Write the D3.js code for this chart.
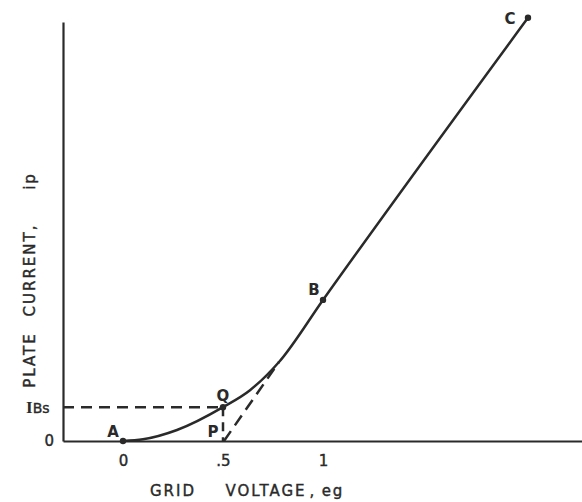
<!DOCTYPE html>
<html><head><meta charset="utf-8">
<script src="https://cdn.jsdelivr.net/npm/d3@7"></script>
<style>
body{margin:0;background:#fff;}
text{font-family:"DejaVu Sans",sans-serif;fill:#2a2a2a;}
</style></head>
<body><svg id="c" width="582" height="502"></svg>
<script>
// data (grid voltage eg, plate current ip in arbitrary units)
const xDomain = [-0.3, 2.3];
const yDomain = [0, 2.97];
const curveEg = [0, 0.1, 0.27, 0.5, 0.635, 0.78, 1.0, 2.025];
const curveIp = [0, 0.012, 0.078, 0.24, 0.36, 0.56, 1.0, 3.0];
const pointNames = ["A", "Q", "B", "C"];
const pointEg = [0, 0.5, 1.0, 2.025];
const pointIp = [0, 0.24, 1.0, 3.0];
const tangentEg = [0.505, 0.78];
const tangentIp = [0, 0.56];
const ibsIp = 0.24;
const qEg = 0.5;
const xTicks = [0, 0.5, 1];
const xTickLabels = ["0", ".5", "1"];

const svg = d3.select("#c");
const x = d3.scaleLinear().domain(xDomain).range([63, 583]);
const y = d3.scaleLinear().domain(yDomain).range([441, 22]);
const ink = "#2a2a2a";

// axes
svg.append("g").attr("transform", `translate(0,${y(0)})`)
  .call(d3.axisBottom(x).tickValues(xTicks).tickSize(0).tickPadding(14)
    .tickFormat((d, i) => xTickLabels[i]))
  .call(g => g.select(".domain").attr("stroke", ink).attr("stroke-width", 2.2))
  .call(g => g.selectAll("text").attr("font-size", 15).attr("fill", ink).attr("font-family", "DejaVu Sans")
    .attr("stroke", ink).attr("stroke-width", 0.4));
svg.append("g").attr("transform", `translate(${x(xDomain[0])},0)`)
  .call(d3.axisLeft(y).tickValues([0]).tickSize(0).tickPadding(9).tickFormat(() => "0"))
  .call(g => g.select(".domain").attr("stroke", ink).attr("stroke-width", 2.2))
  .call(g => g.selectAll("text").attr("font-size", 15).attr("fill", ink).attr("font-family", "DejaVu Sans")
    .attr("stroke", ink).attr("stroke-width", 0.4));

// dashed lines
svg.append("line").attr("x1", x(xDomain[0])).attr("x2", x(qEg)).attr("y1", y(ibsIp)).attr("y2", y(ibsIp))
  .attr("stroke", ink).attr("stroke-width", 2.5).attr("stroke-dasharray", "11,7");
svg.append("line").attr("x1", x(qEg)).attr("x2", x(qEg)).attr("y1", y(ibsIp)).attr("y2", y(0))
  .attr("stroke", ink).attr("stroke-width", 2.5).attr("stroke-dasharray", "9,6");
svg.append("path").datum(tangentEg.map((e, i) => [e, tangentIp[i]]))
  .attr("d", d3.line().x(d => x(d[0])).y(d => y(d[1])))
  .attr("fill", "none").attr("stroke", ink).attr("stroke-width", 2.5).attr("stroke-dasharray", "12,7");

// characteristic curve
svg.append("path").datum(curveEg.map((e, i) => [e, curveIp[i]]))
  .attr("d", d3.line().curve(d3.curveMonotoneX).x(d => x(d[0])).y(d => y(d[1])))
  .attr("fill", "none").attr("stroke", ink).attr("stroke-width", 2.5);

// points
svg.selectAll("circle.pt").data(pointEg).join("circle")
  .attr("cx", d => x(d)).attr("cy", (d, i) => y(pointIp[i])).attr("r", 3.2).attr("fill", ink);

// point labels
const lblOff = {A: [-10, -9], Q: [0, -11], B: [-9, -10], C: [-18, 1]};
svg.selectAll("text.pl").data(pointNames).join("text")
  .attr("x", (d, i) => x(pointEg[i]) + lblOff[d][0])
  .attr("y", (d, i) => y(pointIp[i]) + lblOff[d][1] + 5)
  .attr("text-anchor", "middle").attr("font-size", 15).attr("font-weight", "bold").text(d => d);
svg.append("text").attr("x", x(qEg) - 10).attr("y", y(0) - 4)
  .attr("text-anchor", "middle").attr("font-size", 15).attr("font-weight", "bold").text("P");

// IBs label
const ibs = svg.append("text").attr("x", 26).attr("y", y(ibsIp) + 6).attr("font-size", 15);
ibs.append("tspan").attr("font-weight", "bold").attr("font-family", "Liberation Serif").attr("font-size", 17).text("I");
ibs.append("tspan").attr("font-size", 14).attr("stroke", ink).attr("stroke-width", 0.4).text("Bs");

// axis titles
const xt = [["GRID", 173], ["VOLTAGE", 266], [",", 313], ["eg", 333]];
svg.selectAll("text.xt").data(xt).join("text")
  .attr("x", d => d[0]).attr("x", d => d[1]).attr("y", 496).attr("text-anchor", "middle")
  .attr("font-size", 15).attr("letter-spacing", 2).attr("stroke", ink).attr("stroke-width", 0.4).text(d => d[0]);
const yt = [["PLATE", 360], ["CURRENT,", 270], ["ip", 181]];
svg.selectAll("text.yt").data(yt).join("text")
  .attr("transform", d => `translate(35,${d[1]}) rotate(-90)`).attr("text-anchor", "middle")
  .attr("font-size", 15).attr("letter-spacing", 2).attr("stroke", ink).attr("stroke-width", 0.4).text(d => d[0]);
</script></body></html>
